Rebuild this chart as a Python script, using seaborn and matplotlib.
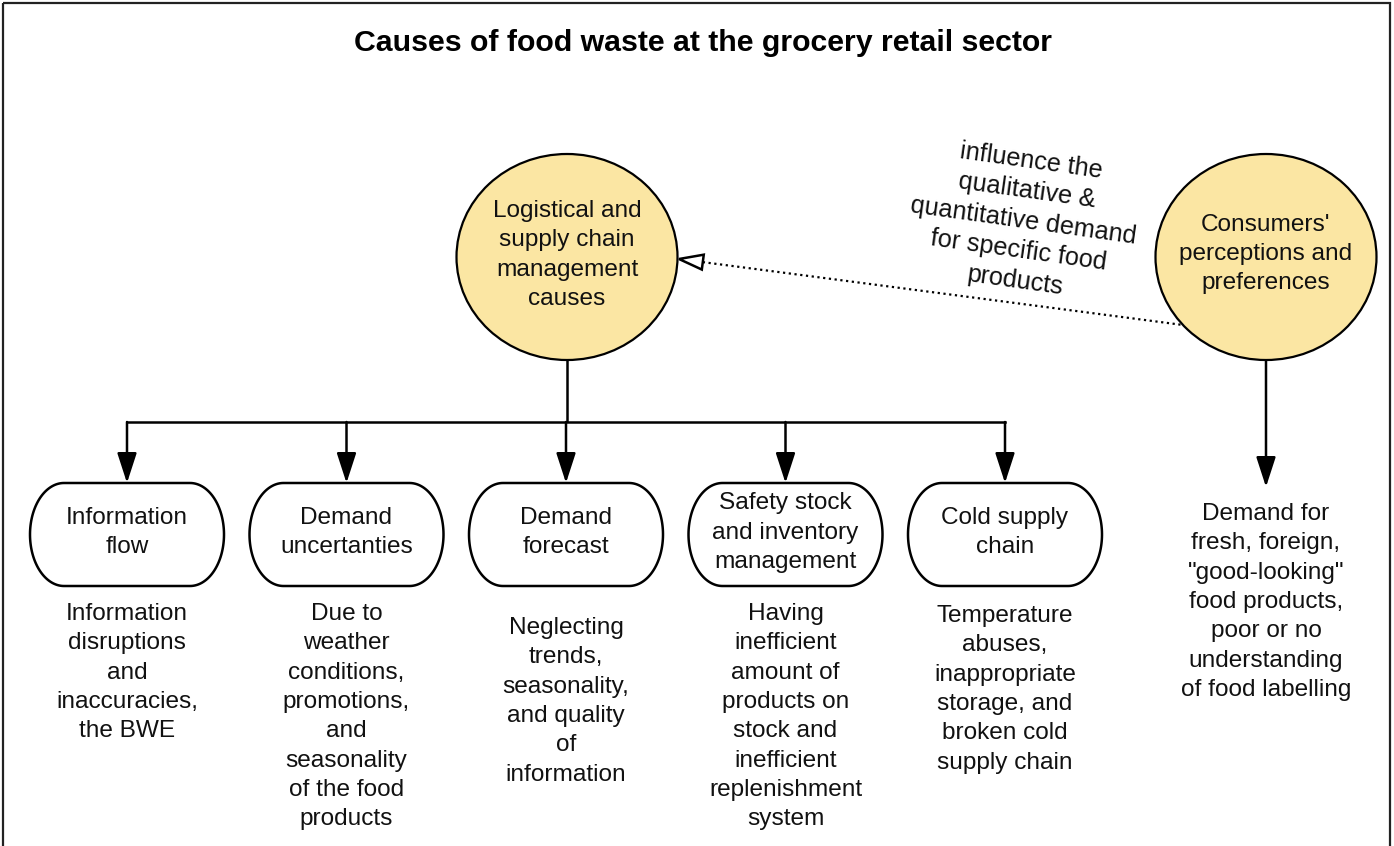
import numpy as np
import matplotlib
matplotlib.use("Agg")
import matplotlib.pyplot as plt
from matplotlib.patches import Ellipse, Polygon, Rectangle, FancyArrowPatch
import seaborn as sns

# ---------------- content ----------------
title = "Causes of food waste at the grocery retail sector"
root_label = "Logistical and\nsupply chain\nmanagement\ncauses"
consumer_label = "Consumers'\nperceptions and\npreferences"
link_label = "influence the\nqualitative &\nquantitative demand\nfor specific food\nproducts"
cause_categories = [
    "Information\nflow",
    "Demand\nuncertanties",
    "Demand\nforecast",
    "Safety stock\nand inventory\nmanagement",
    "Cold supply\nchain",
]
cause_descriptions = [
    "Information\ndisruptions\nand\ninaccuracies,\nthe BWE",
    "Due to\nweather\nconditions,\npromotions,\nand\nseasonality\nof the food\nproducts",
    "Neglecting\ntrends,\nseasonality,\nand quality\nof\ninformation",
    "Having\ninefficient\namount of\nproducts on\nstock and\ninefficient\nreplenishment\nsystem",
    "Temperature\nabuses,\ninappropriate\nstorage, and\nbroken cold\nsupply chain",
]
consumer_outcome = ("Demand for\nfresh, foreign,\n\"good-looking\"\nfood products,\n"
                    "poor or no\nunderstanding\nof food labelling")

# ---------------- style / layout ----------------
sns.set_theme(style="white")
plt.rcParams["font.family"] = ["Liberation Sans", "DejaVu Sans"]

W, H = 1394, 846
fig = plt.figure(figsize=(W / 100, H / 100), dpi=100)
ax = fig.add_axes([0, 0, 1, 1])
ax.set_xlim(0, W)
ax.set_ylim(H, 0)
ax.axis("off")

FILL = "#fbe6a3"
TXT = "#111111"
FS = 17.6
LS = 1.43
LW = 1.8

# frame
ax.add_patch(Rectangle((3, 3), W - 7, H + 10, fill=False, ec="#222222", lw=1.6, zorder=1))

ax.text(703, 43, title, ha="center", va="center", fontsize=21.8,
        fontweight="bold", color="black")

# circles
root_c = (567, 257)
cons_c = (1266, 257)
ax.add_patch(Ellipse(root_c, 221, 206, fc=FILL, ec="black", lw=1.6, zorder=3))
ax.add_patch(Ellipse(cons_c, 221, 206, fc=FILL, ec="black", lw=1.6, zorder=3))
ax.text(root_c[0], root_c[1] - 2, root_label, ha="center", va="center", fontsize=FS,
        color=TXT, linespacing=LS, zorder=4)
ax.text(cons_c[0], cons_c[1] - 3, consumer_label, ha="center", va="center", fontsize=FS,
        color=TXT, linespacing=LS, zorder=4)

# tree connectors
n = len(cause_categories)
xs = 127 + np.arange(n) * 219.5
bus_y, box_top, box_h, box_w = 422, 483, 103, 194
ax.plot([root_c[0], root_c[0]], [root_c[1] + 103, bus_y], color="black", lw=LW,
        solid_capstyle="butt", zorder=2)
ax.plot([xs[0], xs[-1]], [bus_y, bus_y], color="black", lw=LW,
        solid_capstyle="projecting", zorder=2)


def down_arrow(x, y0, y1):
    ax.add_patch(FancyArrowPatch((x, y0), (x, y1),
                                 arrowstyle="-|>,head_length=1.85,head_width=0.6",
                                 mutation_scale=10, lw=LW, color="black",
                                 shrinkA=0, shrinkB=0, zorder=2))


def terminator(cx, top, w, h, rx, p=2.0):
    cy = top + h / 2
    ry = h / 2
    t = np.linspace(-np.pi / 2, np.pi / 2, 80)
    ex = np.abs(np.cos(t)) ** (2 / p)
    ey = np.sign(np.sin(t)) * np.abs(np.sin(t)) ** (2 / p)
    right = np.column_stack([cx + w / 2 - rx + rx * ex, cy + ry * ey])
    left = np.column_stack([cx - w / 2 + rx - rx * ex, cy - ry * ey])
    ax.add_patch(Polygon(np.vstack([right, left]), closed=True, fc="white",
                         ec="black", lw=1.8, zorder=3))


desc_top = [603, 603, 617, 603, 605]
for i, (x, cat, desc) in enumerate(zip(xs, cause_categories, cause_descriptions)):
    down_arrow(x, bus_y, box_top)
    terminator(x, box_top, box_w, box_h, 34)
    ax.text(x, box_top + box_h / 2 - 2, cat, ha="center", va="center", fontsize=FS,
            color=TXT, linespacing=LS, zorder=4)
    ax.text(x, desc_top[i], desc, ha="center", va="top", fontsize=FS, color=TXT,
            linespacing=LS, zorder=4)

# consumer branch
down_arrow(cons_c[0], cons_c[1] + 103, 487)
ax.text(cons_c[0], 503, consumer_outcome, ha="center", va="top", fontsize=FS,
        color=TXT, linespacing=LS)

# dotted influence arrow with open head
tip = np.array([679.0, 259.0])
tail = np.array([1183.0, 325.0])
u = (tail - tip) / np.linalg.norm(tail - tip)
nrm = np.array([-u[1], u[0]])
base = tip + 24 * u
ax.add_patch(Polygon([tip, base + 7.5 * nrm, base - 7.5 * nrm], closed=True,
                     fc="white", ec="black", lw=1.8, zorder=5))
ax.plot([base[0], tail[0]], [base[1], tail[1]], color="black", lw=1.6,
        ls=(0, (1, 1.6)), zorder=2)
ax.text(1023, 221, link_label, ha="center", va="center", fontsize=FS + 0.6, color=TXT,
        rotation=-8, rotation_mode="anchor", linespacing=1.32, multialignment="center")

fig.savefig("out.png", dpi=100)
